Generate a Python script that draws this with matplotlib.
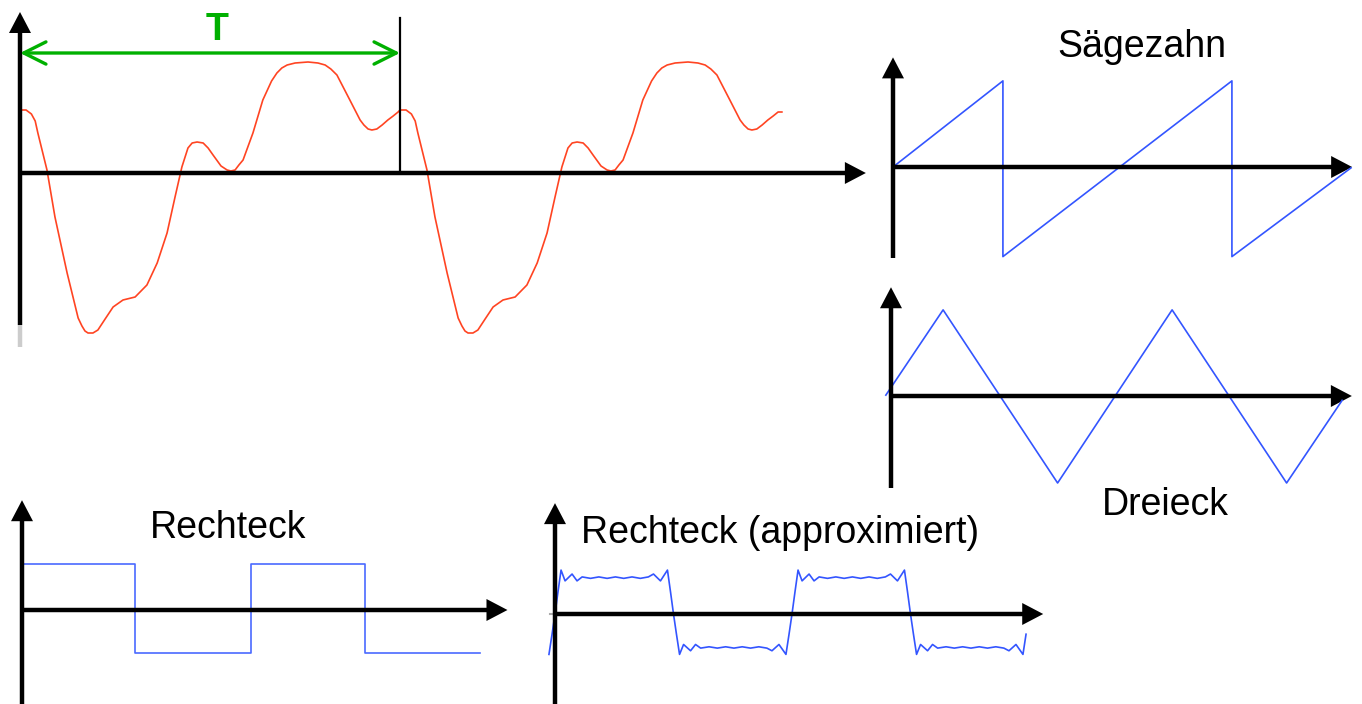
import numpy as np
import matplotlib.pyplot as plt

W, H = 1362, 704
plt.rcParams['font.family'] = ['Liberation Sans', 'DejaVu Sans']

# --- data ---

# periodic signal, one period (t in periods, y in arbitrary units)
wave_t = [0.000, 0.016, 0.030, 0.040, 0.047, 0.071, 0.092, 0.124, 0.153, 0.163,
          0.171, 0.179, 0.192, 0.205, 0.224, 0.245, 0.271, 0.303, 0.334, 0.361,
          0.387, 0.408, 0.426, 0.442, 0.453, 0.466, 0.482, 0.495, 0.508, 0.529,
          0.545, 0.555, 0.566, 0.576, 0.587, 0.613, 0.639, 0.662, 0.676, 0.689,
          0.703, 0.724, 0.758, 0.784, 0.803, 0.818, 0.834, 0.868, 0.895, 0.905,
          0.916, 0.926, 0.939, 0.953, 0.968, 0.982, 0.995]
wave_y = [0.63, 0.63, 0.59, 0.52, 0.40, 0.03, -0.44, -1.00, -1.45, -1.53,
          -1.58, -1.60, -1.60, -1.57, -1.46, -1.34, -1.27, -1.24, -1.12, -0.90,
          -0.60, -0.24, 0.06, 0.25, 0.30, 0.31, 0.30, 0.25, 0.18, 0.07,
          0.03, 0.02, 0.03, 0.08, 0.13, 0.40, 0.73, 0.92, 1.00, 1.05,
          1.08, 1.10, 1.11, 1.10, 1.08, 1.04, 0.98, 0.73, 0.53, 0.48,
          0.44, 0.43, 0.44, 0.48, 0.53, 0.57, 0.61]
n_periods = 2
wave_end = (2.005, 0.61)

# sawtooth
saw_t = [0, 0.96, 0.96, 2.96, 2.96, 4.0]
saw_y = [0, 0.99, -1.03, 0.99, -1.03, -0.01]

# triangle
tri_t = [-0.09, 0.91, 2.91, 4.91, 6.91, 7.88]
tri_y = [0.01, 0.99, -1.0, 0.99, -1.0, -0.05]

# square
sq_t = [0, 0, 0.99, 0.99, 2.0, 2.0, 3.0, 3.0, 4.0]
sq_y = [-0.96, 1.02, 1.02, -0.96, -0.96, 1.02, 1.02, -0.96, -0.96]

# approximated square, one half cycle (rising to falling zero crossing)
half_t = [0.000, 0.025, 0.051, 0.085, 0.144, 0.186, 0.229, 0.30, 0.37, 0.44,
          0.51, 0.58, 0.65, 0.72, 0.788, 0.831, 0.890, 0.949, 0.975, 1.000]
half_y = [0.00, 0.61, 1.22, 0.92, 1.11, 0.92, 1.03, 0.99, 1.03, 0.99,
          1.03, 0.99, 1.03, 0.99, 1.03, 1.11, 0.92, 1.22, 0.61, 0.00]
low_gain = 0.92          # lower half cycles sit a bit closer to the axis
approx_range = (-0.06, 3.98)

labels = ['Sägezahn', 'Dreieck', 'Rechteck', 'Rechteck (approximiert)']

RED = '#ff4422'
BLUE = '#3355ff'
BLUE2 = '#4a6aff'
GREEN = '#00b000'

fig = plt.figure(figsize=(W / 100, H / 100), dpi=100)


def panel(ox, oy, sx, sy, xlim, ylim):
    # (ox, oy) = pixel of data origin, sx/sy = pixels per unit
    left = ox + sx * xlim[0]
    right = ox + sx * xlim[1]
    top = oy - sy * ylim[1]
    bottom = oy - sy * ylim[0]
    ax = fig.add_axes([left / W, 1 - bottom / H, (right - left) / W, (bottom - top) / H])
    ax.set_xlim(*xlim)
    ax.set_ylim(*ylim)
    ax.axis('off')
    return ax


def axis_arrow(ax, start, tip, lw=3.2, head_len=21, head_half=11):
    trans = ax.transData
    inv = trans.inverted()
    p0 = trans.transform(start)
    p1 = trans.transform(tip)
    d = (p1 - p0) / np.hypot(*(p1 - p0))
    n = np.array([-d[1], d[0]])
    base = p1 - d * head_len
    b = inv.transform(p1 - d * (head_len - 1))
    ax.plot([start[0], b[0]], [start[1], b[1]], color='black', lw=lw,
            solid_capstyle='butt', clip_on=False)
    tri = inv.transform([p1, base + n * head_half, base - n * head_half])
    ax.fill(tri[:, 0], tri[:, 1], color='black', lw=0, clip_on=False)


def label(x, y, s):
    fig.text(x / W, 1 - y / H, s, ha='center', va='baseline', fontsize=27)


# main periodic signal
ax = panel(20, 173, 380, 100, (-0.05, 2.3), (-1.8, 1.7))
t_all = np.concatenate([np.array(wave_t) + k for k in range(n_periods)] + [[wave_end[0]]])
y_all = np.concatenate([wave_y] * n_periods + [[wave_end[1]]])
ax.plot(t_all, y_all, color=RED, lw=1.2, clip_on=False)
ax.plot([0, 0], [-1.74, -1.52], color='#cccccc', lw=3.2, solid_capstyle='butt')
axis_arrow(ax, (0, 0), (2.226, 0))
axis_arrow(ax, (0, -1.52), (0, 1.61))
ax.plot([1, 1], [0, 1.55], color='black', lw=1.6)
ax.annotate('', xy=(1, 1.2), xytext=(0, 1.2),
            arrowprops=dict(arrowstyle='<->,head_length=16,head_width=8',
                            mutation_scale=1, lw=2.4, color=GREEN,
                            shrinkA=0, shrinkB=0))
ax.text(0.518, 1.33, 'T', color=GREEN, fontsize=27, fontweight='bold',
        ha='center', va='baseline')

# sawtooth
ax = panel(893, 167, 114.5, 87, (-0.1, 4.1), (-1.1, 1.3))
ax.plot(saw_t, saw_y, color=BLUE, lw=1.2, clip_on=False)
axis_arrow(ax, (0, 0), (4.01, 0))
axis_arrow(ax, (0, -1.05), (0, 1.26))
label(1142, 57, labels[0])

# triangle
ax = panel(891, 396, 57.25, 87, (-0.2, 8.1), (-1.1, 1.3))
ax.plot(tri_t, tri_y, color=BLUE, lw=1.2, clip_on=False)
axis_arrow(ax, (0, 0), (8.05, 0))
axis_arrow(ax, (0, -1.06), (0, 1.25))
label(1165, 515, labels[1])

# square
ax = panel(22, 610, 114.5, 45, (-0.1, 4.3), (-2.1, 2.5))
ax.plot(sq_t, sq_y, color=BLUE2, lw=1.2, clip_on=False)
axis_arrow(ax, (0, 0), (4.24, 0))
axis_arrow(ax, (0, -2.1), (0, 2.44))
label(228, 538, labels[2])

# approximated square (half cycle repeated with alternating sign)
ax = panel(555, 614, 118.5, 36, (-0.1, 4.2), (-2.6, 3.1))
at, ay = [], []
for k in range(-1, 4):
    gain = 1 if k % 2 == 0 else -low_gain
    at.extend(np.array(half_t) + k)
    ay.extend(gain * np.array(half_y))
at, ay = np.array(at), np.array(ay)
keep = (at >= approx_range[0]) & (at <= approx_range[1])
ax.plot(at[keep], ay[keep], color=BLUE, lw=1.2, clip_on=False)
ax.plot([-0.045, 0], [0, 0], color='#aaaaaa', lw=1.5)
axis_arrow(ax, (0, 0), (4.12, 0))
axis_arrow(ax, (0, -2.55), (0, 3.08))
label(780, 543, labels[3])

fig.savefig('out.png', dpi=100)
